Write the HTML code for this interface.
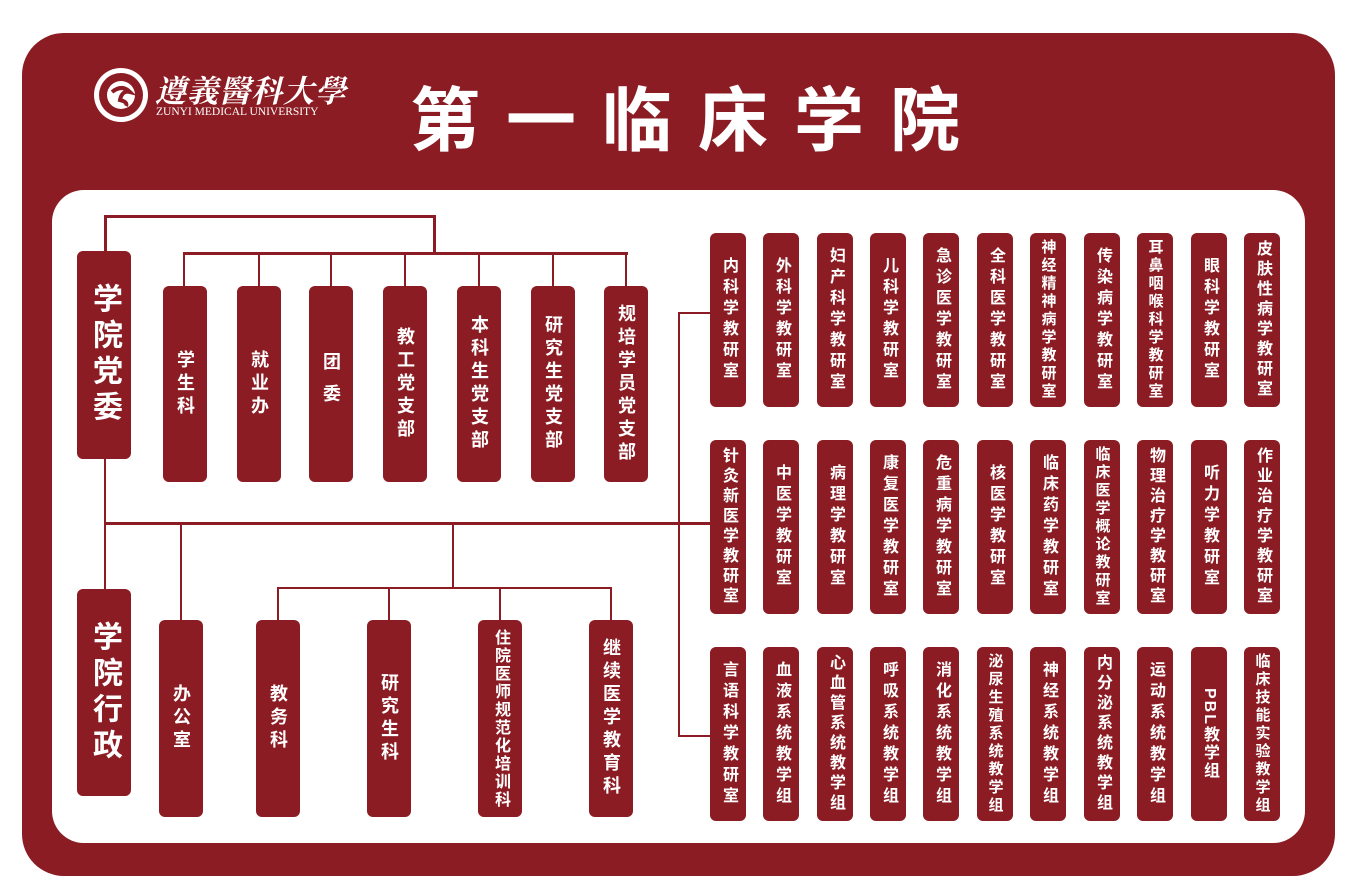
<!DOCTYPE html>
<html><head><meta charset="utf-8"><style>
*{margin:0;padding:0;box-sizing:border-box}
body{width:1361px;height:896px;background:#fff;position:relative;overflow:hidden;font-family:"Liberation Sans","Noto Sans CJK SC",sans-serif}
.outer{position:absolute;left:22px;top:33px;width:1313px;height:843px;background:#8B1C23;border-radius:42px}
.inner{position:absolute;left:52px;top:190px;width:1253px;height:653px;background:#fff;border-radius:32px}
.b{position:absolute;background:#8B1C23;border-radius:6px;color:#fff;font-weight:bold;display:flex;align-items:center;justify-content:center;writing-mode:vertical-rl;text-orientation:upright;font-size:18px;line-height:1;letter-spacing:5px}
.c{width:36px;height:174px;font-size:16px;letter-spacing:5px}
.m{letter-spacing:4px !important}
.s{font-size:15px !important;letter-spacing:3px !important}
.l{position:absolute;background:#8B1C23}
</style></head><body>
<div class="outer"></div>
<div class="inner"></div>
<svg style="position:absolute;left:92px;top:66px" width="60" height="60"><circle cx="29" cy="29" r="27" fill="#fff"/><circle cx="29" cy="29" r="22" fill="#8B1C23"/><circle cx="29" cy="29" r="14" fill="#fff"/><path d="M20 26 Q30 18 38 26 Q30 24 28 34 Q36 36 34 40" stroke="#8B1C23" stroke-width="4" fill="none"/></svg>
<div style="position:absolute;left:155px;top:66px;color:#fff;font-family:'Noto Serif CJK SC',serif;font-size:31px;font-weight:bold;letter-spacing:1px;font-style:italic">遵義醫科大學</div>
<div style="position:absolute;left:156px;top:106px;color:#fff;font-family:'Liberation Serif',serif;font-size:11.5px">ZUNYI MEDICAL UNIVERSITY</div>
<div style="position:absolute;left:410px;top:76px;color:#fff;font-size:70px;font-weight:bold;letter-spacing:26px;line-height:90px">第一临床学院</div>

<div class="l" style="left:104px;top:215px;width:331px;height:3px"></div>
<div class="l" style="left:104px;top:215px;width:3px;height:38px"></div>
<div class="l" style="left:433px;top:215px;width:3px;height:38px"></div>
<div class="l" style="left:183px;top:252px;width:445px;height:3px"></div>
<div class="l" style="left:183px;top:252px;width:2px;height:35px"></div>
<div class="l" style="left:258px;top:252px;width:2px;height:35px"></div>
<div class="l" style="left:330px;top:252px;width:2px;height:35px"></div>
<div class="l" style="left:404px;top:252px;width:2px;height:35px"></div>
<div class="l" style="left:478px;top:252px;width:2px;height:35px"></div>
<div class="l" style="left:552px;top:252px;width:2px;height:35px"></div>
<div class="l" style="left:625px;top:252px;width:2px;height:35px"></div>
<div class="l" style="left:104px;top:455px;width:2px;height:136px"></div>
<div class="l" style="left:104px;top:522px;width:606px;height:3px"></div>
<div class="l" style="left:180px;top:522px;width:2px;height:100px"></div>
<div class="l" style="left:452px;top:522px;width:2px;height:66px"></div>
<div class="l" style="left:277px;top:587px;width:335px;height:2px"></div>
<div class="l" style="left:277px;top:587px;width:2px;height:34px"></div>
<div class="l" style="left:388px;top:587px;width:2px;height:34px"></div>
<div class="l" style="left:499px;top:587px;width:2px;height:34px"></div>
<div class="l" style="left:610px;top:587px;width:2px;height:34px"></div>
<div class="l" style="left:678px;top:312px;width:2px;height:425px"></div>
<div class="l" style="left:678px;top:312px;width:32px;height:2px"></div>
<div class="l" style="left:678px;top:735px;width:32px;height:2px"></div>

<div class="b" style="left:77px;top:251px;width:54px;height:208px;font-size:30px;letter-spacing:6px">学院党委</div>
<div class="b" style="left:163px;top:286px;width:44px;height:196px">学生科</div>
<div class="b" style="left:237px;top:286px;width:44px;height:196px">就业办</div>
<div class="b" style="left:309px;top:286px;width:44px;height:196px;letter-spacing:14px">团委</div>
<div class="b" style="left:383px;top:286px;width:44px;height:196px">教工党支部</div>
<div class="b" style="left:457px;top:286px;width:44px;height:196px">本科生党支部</div>
<div class="b" style="left:531px;top:286px;width:44px;height:196px">研究生党支部</div>
<div class="b" style="left:604px;top:286px;width:44px;height:196px">规培学员党支部</div>
<div class="b" style="left:77px;top:589px;width:54px;height:207px;font-size:30px;letter-spacing:6px">学院行政</div>
<div class="b" style="left:159px;top:620px;width:44px;height:197px">办公室</div>
<div class="b" style="left:256px;top:620px;width:44px;height:197px">教务科</div>
<div class="b" style="left:367px;top:620px;width:44px;height:197px">研究生科</div>
<div class="b" style="left:478px;top:620px;width:44px;height:197px;font-size:16px;letter-spacing:2px">住院医师规范化培训科</div>
<div class="b" style="left:589px;top:620px;width:44px;height:197px">继续医学教育科</div>

<div class="b c" style="left:710px;top:233px">内科学教研室</div>
<div class="b c" style="left:763px;top:233px">外科学教研室</div>
<div class="b c" style="left:817px;top:233px">妇产科学教研室</div>
<div class="b c" style="left:870px;top:233px">儿科学教研室</div>
<div class="b c" style="left:923px;top:233px">急诊医学教研室</div>
<div class="b c" style="left:977px;top:233px">全科医学教研室</div>
<div class="b c s" style="left:1030px;top:233px">神经精神病学教研室</div>
<div class="b c" style="left:1084px;top:233px">传染病学教研室</div>
<div class="b c s" style="left:1137px;top:233px">耳鼻咽喉科学教研室</div>
<div class="b c" style="left:1191px;top:233px">眼科学教研室</div>
<div class="b c m" style="left:1244px;top:233px">皮肤性病学教研室</div>

<div class="b c m" style="left:710px;top:440px">针灸新医学教研室</div>
<div class="b c" style="left:763px;top:440px">中医学教研室</div>
<div class="b c" style="left:817px;top:440px">病理学教研室</div>
<div class="b c" style="left:870px;top:440px">康复医学教研室</div>
<div class="b c" style="left:923px;top:440px">危重病学教研室</div>
<div class="b c" style="left:977px;top:440px">核医学教研室</div>
<div class="b c" style="left:1030px;top:440px">临床药学教研室</div>
<div class="b c s" style="left:1084px;top:440px">临床医学概论教研室</div>
<div class="b c m" style="left:1137px;top:440px">物理治疗学教研室</div>
<div class="b c" style="left:1191px;top:440px">听力学教研室</div>
<div class="b c m" style="left:1244px;top:440px">作业治疗学教研室</div>

<div class="b c" style="left:710px;top:647px">言语科学教研室</div>
<div class="b c" style="left:763px;top:647px">血液系统教学组</div>
<div class="b c m" style="left:817px;top:647px">心血管系统教学组</div>
<div class="b c" style="left:870px;top:647px">呼吸系统教学组</div>
<div class="b c" style="left:923px;top:647px">消化系统教学组</div>
<div class="b c s" style="left:977px;top:647px">泌尿生殖系统教学组</div>
<div class="b c" style="left:1030px;top:647px">神经系统教学组</div>
<div class="b c m" style="left:1084px;top:647px">内分泌系统教学组</div>
<div class="b c" style="left:1137px;top:647px">运动系统教学组</div>
<div class="b c" style="left:1191px;top:647px;text-orientation:mixed;letter-spacing:2px">PBL教学组</div>
<div class="b c s" style="left:1244px;top:647px">临床技能实验教学组</div>
</body></html>
